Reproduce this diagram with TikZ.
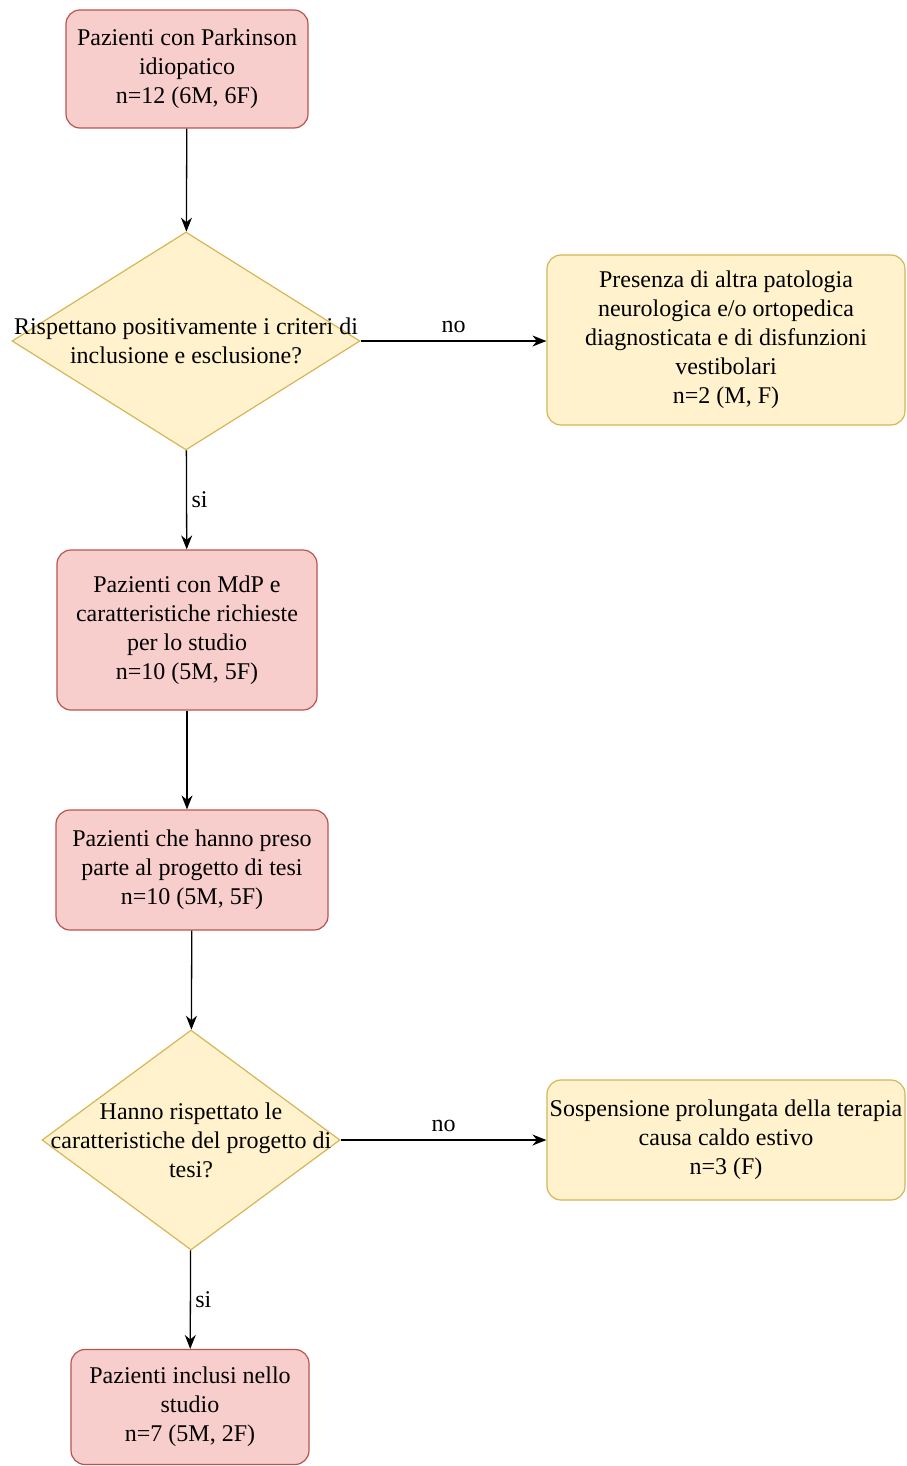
\documentclass[tikz,border=0pt]{standalone}
\usepackage{fontspec}
\setmainfont{Liberation Serif}
\usepackage{tikz}
\usetikzlibrary{arrows.meta,shapes.geometric,calc}
\definecolor{PazRed}{HTML}{F8CECC}
\definecolor{PazLine}{HTML}{B85450}
\definecolor{EsclYellow}{HTML}{FFF2CC}
\definecolor{EsclLine}{HTML}{D6B656}

\begin{document}
\begin{tikzpicture}[
    x=1pt,y=-1pt,
    every node/.style={font=\fontsize{24}{29}\selectfont},
    paz/.style={rounded corners=14pt,draw=PazLine,fill=PazRed,line width=1.2pt,
      align=center,inner sep=0pt},
    escl/.style={rounded corners=14pt,draw=EsclLine,fill=EsclYellow,line width=1.2pt,
      align=center,inner sep=0pt},
    decision/.style={diamond,draw=EsclLine,fill=EsclYellow,line width=1.2pt,inner sep=0pt},
    arrow/.style={-{Stealth[length=14pt,width=11pt]},line width=1.3pt,color=black}
  ]
    \useasboundingbox (0,0) rectangle (906,1466);
    \node[paz,minimum width=242pt,minimum height=118pt] (start) at (187,69)
      {Pazienti con Parkinson\\idiopatico\\n=12 (6M, 6F)};
    \node[decision,minimum width=348pt,minimum height=218pt,
      label={[align=center]center:Rispettano positivamente i criteri di\\inclusione e esclusione?}]
      (crit) at (186,341) {};
    \node[escl,minimum width=358pt,minimum height=170pt] (patol) at (726,340)
      {Presenza di altra patologia\\neurologica e/o ortopedica\\diagnosticata e di disfunzioni\\vestibolari\\n=2 (M, F)};
    \node[paz,minimum width=260pt,minimum height=160pt] (mdp) at (187,630)
      {Pazienti con MdP e\\caratteristiche richieste\\per lo studio\\n=10 (5M, 5F)};
    \node[paz,minimum width=272pt,minimum height=120pt] (tesi) at (192,870)
      {Pazienti che hanno preso\\parte al progetto di tesi\\n=10 (5M, 5F)};
    \node[decision,minimum width=298pt,minimum height=220pt,
      label={[align=center]center:Hanno rispettato le\\caratteristiche del progetto di\\tesi?}]
      (rispetto) at (191,1140) {};
    \node[escl,minimum width=358pt,minimum height=120pt] (sosp) at (726,1140)
      {Sospensione prolungata della terapia\\causa caldo estivo\\n=3 (F)};
    \node[paz,minimum width=238pt,minimum height=115pt] (inclusi) at (190,1407)
      {Pazienti inclusi nello\\studio\\n=7 (5M, 2F)};

    \draw[arrow] (start) -- (crit);
    \draw[arrow] (crit.east) -- node[above=4pt] (no1) {no} (crit.east -| patol.west);
    \draw[arrow] (crit) -- node[right=1pt] (si1) {si} (mdp);
    \draw[arrow] (mdp.south) -- (mdp.south |- tesi.north);
    \draw[arrow] (tesi) -- (rispetto);
    \draw[arrow] (rispetto.east) -- node[above=4pt] (no2) {no} (rispetto.east -| sosp.west);
    \draw[arrow] (rispetto) -- node[right=1pt] (si2) {si} (inclusi);
  \end{tikzpicture}
\end{document}
